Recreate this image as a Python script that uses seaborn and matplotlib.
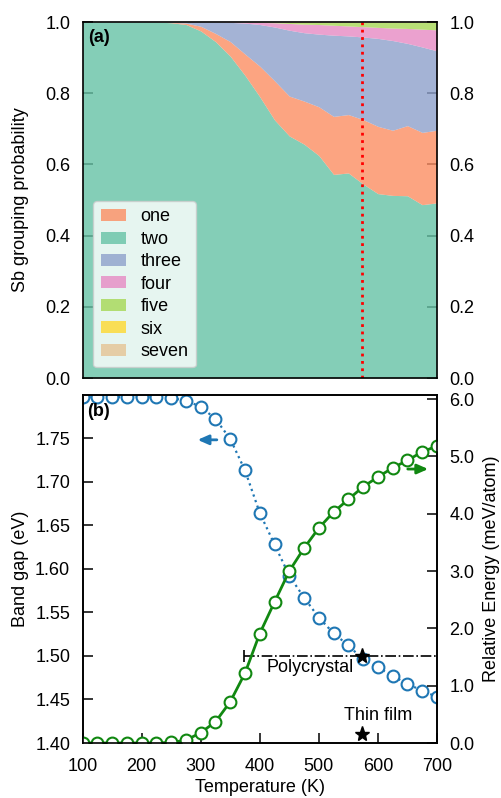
import matplotlib
matplotlib.use("Agg")
import matplotlib.pyplot as plt
import seaborn as sns

# temperature grid (K)
temps = [100, 125, 150, 175, 200, 225, 250, 275, 300, 325, 350, 375, 400,
         425, 450, 475, 500, 525, 550, 575, 600, 625, 650, 675, 700]

# Sb grouping probabilities (panel a)
p_two = [1.0, 1.0, 1.0, 1.0, 1.0, 1.0, 0.998, 0.993, 0.975, 0.945, 0.904, 0.85, 0.79,
         0.725, 0.68, 0.657, 0.625, 0.572, 0.576, 0.545, 0.518, 0.513, 0.512, 0.487, 0.492]
p_one = [0, 0, 0, 0, 0, 0, 0.001, 0.004, 0.013, 0.023, 0.041, 0.06, 0.086,
         0.11, 0.112, 0.121, 0.137, 0.163, 0.164, 0.181, 0.189, 0.183, 0.197, 0.203, 0.204]
p_three = [0, 0, 0, 0, 0, 0, 0.001, 0.003, 0.012, 0.032, 0.054, 0.087, 0.117,
           0.151, 0.185, 0.192, 0.204, 0.228, 0.221, 0.232, 0.247, 0.252, 0.231, 0.240, 0.223]
p_four = [0, 0, 0, 0, 0, 0, 0, 0, 0, 0, 0.001, 0.0025, 0.006,
          0.012, 0.019, 0.024, 0.027, 0.028, 0.028, 0.029, 0.031, 0.035, 0.042, 0.050, 0.059]
p_five = [0, 0, 0, 0, 0, 0, 0, 0, 0, 0, 0, 0.0005, 0.001,
          0.0015, 0.003, 0.005, 0.006, 0.008, 0.010, 0.012, 0.014, 0.016, 0.017, 0.019, 0.021]
p_six = [0, 0, 0, 0, 0, 0, 0, 0, 0, 0, 0, 0, 0.0003,
         0.0005, 0.0008, 0.001, 0.0008, 0.0006, 0.0006, 0.0005, 0.0006, 0.001, 0.001, 0.0007, 0.0006]
p_seven = [0, 0, 0, 0, 0, 0, 0, 0, 0, 0, 0, 0, 0,
           0, 0.0002, 0.0002, 0.0002, 0.0002, 0.0002, 0.0002, 0.0002, 0.0002, 0.0002, 0.0002, 0.0002]

# panel b
band_gap = [1.797, 1.797, 1.797, 1.797, 1.797, 1.797, 1.796, 1.793, 1.786, 1.772, 1.749, 1.713, 1.664,
            1.628, 1.592, 1.567, 1.544, 1.526, 1.512, 1.496, 1.487, 1.477, 1.468, 1.460, 1.453]
rel_energy = [0.0, 0.0, 0.0, 0.0, 0.0, 0.0, 0.01, 0.05, 0.18, 0.37, 0.72, 1.22, 1.91,
              2.46, 3.00, 3.40, 3.75, 4.03, 4.25, 4.47, 4.64, 4.80, 4.93, 5.08, 5.18]

# experiment (annealed at 573 K)
anneal_T = 573
poly_gap = 1.50
poly_range = [373, 700]
thin_gap = 1.41

sns.set_theme(style="ticks", rc={
    'axes.edgecolor': 'black', 'xtick.color': 'black', 'ytick.color': 'black',
    'text.color': 'black', 'axes.labelcolor': 'black',
    'axes.labelsize': 13, 'xtick.labelsize': 13, 'ytick.labelsize': 13,
    'legend.fontsize': 13, 'font.size': 13, 'axes.linewidth': 1.2,
})
plt.rcParams['font.family'] = ['Liberation Sans', 'DejaVu Sans']

pal = sns.color_palette("Set2")
blue = '#1f77b4'
green = '#118811'

fig = plt.figure(figsize=(5.01, 7.98), dpi=100)
ax1 = fig.add_axes([0.165, 0.5263, 0.707, 0.4461])
ax2 = fig.add_axes([0.165, 0.0689, 0.707, 0.4367])

# ---- (a) stacked probabilities
stack = [p_two, p_one, p_three, p_four, p_five, p_six, p_seven]
names = ['two', 'one', 'three', 'four', 'five', 'six', 'seven']
polys = ax1.stackplot(temps, *stack, colors=pal[:7], alpha=0.8, labels=names, linewidth=0)
handles = {n: p for n, p in zip(names, polys)}
order = ['one', 'two', 'three', 'four', 'five', 'six', 'seven']
ax1.legend([handles[n] for n in order], order, loc='lower left', fontsize=13,
           labelspacing=0.3, handlelength=1.4, handleheight=0.65, handletextpad=0.8,
           borderaxespad=0.6, edgecolor='#cccccc')
ax1.axvline(anneal_T, color='red', ls=':', lw=2)
ax1.set_xlim(100, 700)
ax1.set_ylim(0, 1)
ax1.set_yticks([0, 0.2, 0.4, 0.6, 0.8, 1.0])
ax1.set_yticklabels(['0.0', '0.2', '0.4', '0.6', '0.8', '1.0'])
ax1.tick_params(axis='x', bottom=False, labelbottom=False)
ax1.tick_params(axis='y', direction='in', length=7.5, width=1.1, pad=9,
                left=True, right=True, labelleft=True, labelright=True)
ax1.set_ylabel('Sb grouping probability')
ax1.yaxis.set_label_coords(-0.152, 0.5)
ax1.text(0.015, 0.98, '(a)', transform=ax1.transAxes, fontweight='bold', va='top', ha='left')

# ---- (b) band gap & relative energy
sns.lineplot(x=temps, y=band_gap, ax=ax2, color=blue, linestyle=':', linewidth=1.6,
             marker='o', markersize=8.5, markerfacecolor='white', markeredgecolor=blue,
             markeredgewidth=1.5)
ax2.set_xlim(100, 700)
ax2.set_ylim(1.40, 1.80)
ax2.set_yticks([1.40, 1.45, 1.50, 1.55, 1.60, 1.65, 1.70, 1.75])
ax2.set_yticklabels(['1.40', '1.45', '1.50', '1.55', '1.60', '1.65', '1.70', '1.75'])
ax2.set_xticks([100, 200, 300, 400, 500, 600, 700])
ax2.tick_params(direction='in', length=7.5, width=1.1, pad=9)
ax2.tick_params(axis='x', pad=11)
ax2.set_xlabel('Temperature (K)', labelpad=3)
ax2.set_ylabel('Band gap (eV)')
ax2.yaxis.set_label_coords(-0.152, 0.5)

ax2.plot(poly_range, [poly_gap, poly_gap], color='black', ls='-.', lw=1.2)
ax2.plot(poly_range[0], poly_gap, marker='|', color='black', ms=9, mew=1.2)
ax2.plot(anneal_T, poly_gap, marker='*', color='black', ms=11, ls='none')
ax2.plot(anneal_T, thin_gap, marker='*', color='black', ms=11, ls='none')
ax2.text(485, 1.487, 'Polycrystal', ha='center', va='center', fontsize=13)
ax2.text(600, 1.432, 'Thin film', ha='center', va='center', fontsize=13)
ax2.annotate('', xy=(290, 1.748), xytext=(332, 1.748),
             arrowprops=dict(arrowstyle='-|>,head_length=0.5,head_width=0.22', color=blue, lw=2))
ax2.text(0.012, 0.976, '(b)', transform=ax2.transAxes, fontweight='bold', va='top', ha='left')

ax2r = ax2.twinx()
sns.lineplot(x=temps, y=rel_energy, ax=ax2r, color=green, linestyle='-', linewidth=2,
             marker='o', markersize=8.5, markerfacecolor='white', markeredgecolor=green,
             markeredgewidth=1.5)
ax2r.set_ylim(0, 6.08)
ax2r.set_yticks([0, 1, 2, 3, 4, 5, 6])
ax2r.set_yticklabels(['0.0', '1.0', '2.0', '3.0', '4.0', '5.0', '6.0'])
ax2r.tick_params(direction='in', length=7.5, width=1.1, pad=9)
ax2r.set_ylabel('Relative Energy (meV/atom)', labelpad=6)
ax2r.annotate('', xy=(690, 4.78), xytext=(646, 4.78),
              arrowprops=dict(arrowstyle='-|>,head_length=0.5,head_width=0.22', color=green, lw=2))

fig.savefig('out.png', dpi=100)
